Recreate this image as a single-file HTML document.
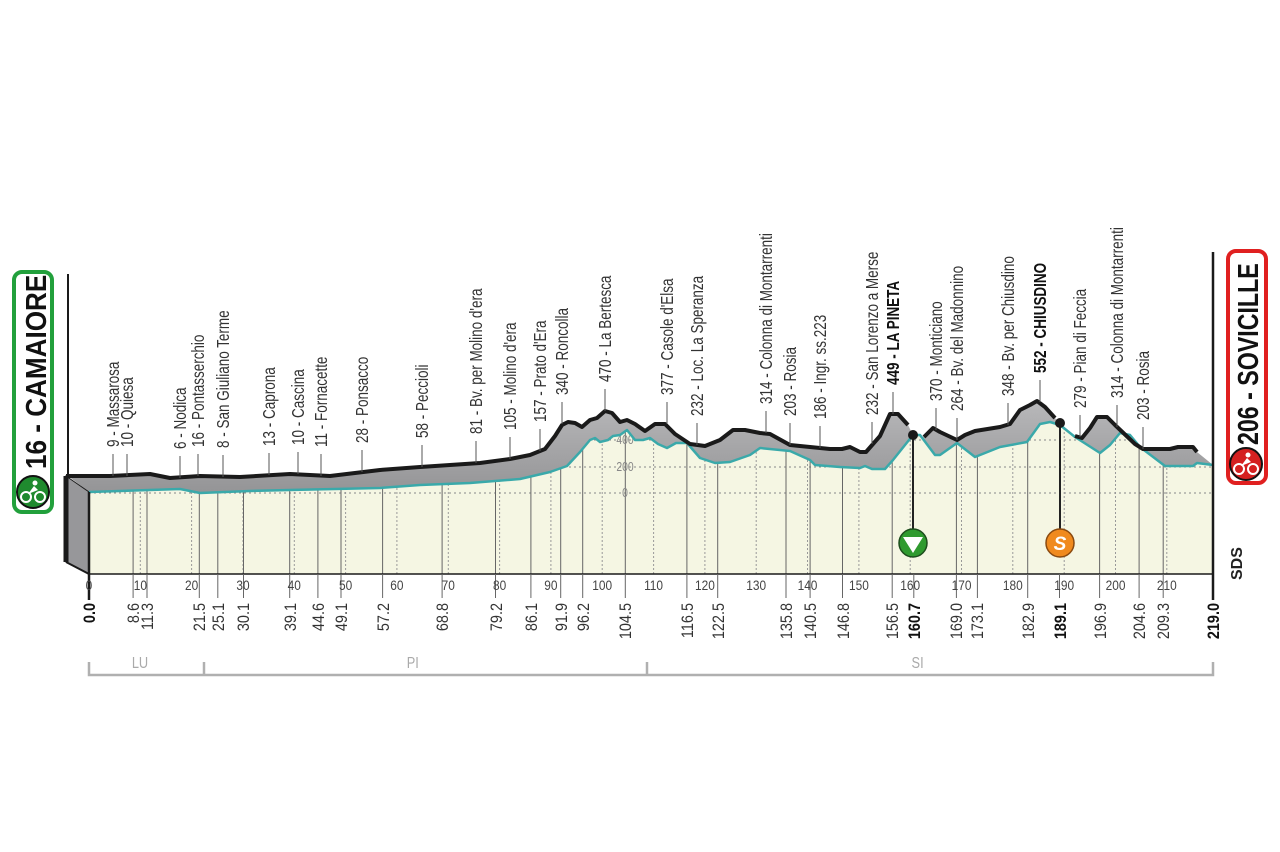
<!DOCTYPE html>
<html><head><meta charset="utf-8"><style>
html,body{margin:0;padding:0;background:#fff;}
svg{display:block;font-family:"Liberation Sans",sans-serif;}
</style></head><body>
<svg width="1280" height="852" viewBox="0 0 1280 852" xmlns="http://www.w3.org/2000/svg">
<defs>
<linearGradient id="gg" x1="0" y1="0" x2="0" y2="1"><stop offset="0" stop-color="#b8b8ba"/><stop offset="1" stop-color="#949496"/></linearGradient>
<clipPath id="cc"><polygon points="89,492 180,489 200,493 250,491 290,490 380,488 420,485 470,483 520,479 550,472 567,466 580,452 590,440 595,438 600,442 608,440 613,436 620,435 627,430 635,440 643,440 650,438 658,444 667,448 676,443 687,443 700,458 715,463 730,462 750,455 760,448 790,451 810,460 815,465 840,467 860,468 865,466 872,469 885,469 893,460 905,445 913,435 920,435 935,455 940,455 957,443 975,457 990,451 1000,447 1027,442 1040,424 1050,422 1060,425 1075,437 1100,453 1110,445 1120,433 1130,435 1140,447 1165,466 1193,466 1197,463 1213,465 1213,574 89,574"/></clipPath>
</defs>
<polygon fill="url(#gg)" points="68,476 110,476 150,474 170,478 200,476 240,477 290,474 330,476 380,470 420,467 480,463 510,459 530,455 545,449 555,436 562,425 568,422 575,423 582,427 590,420 597,418 605,411 612,413 620,422 627,420 635,424 645,431 655,424 665,424 675,434 690,444 705,446 720,440 733,430 745,430 760,433 770,434 790,445 830,449 842,449 850,447 860,452 866,452 880,436 890,414 898,414 908,425 913,435 922,438 933,428 940,432 957,440 965,435 975,431 1000,427 1010,424 1020,410 1030,405 1037,401 1045,407 1055,418 1060,423 1075,436 1082,438 1090,428 1097,417 1107,417 1115,425 1135,444 1143,449 1170,449 1178,447 1193,447 1197,452 1213,465 1197,463 1193,466 1165,466 1140,447 1130,435 1120,433 1110,445 1100,453 1075,437 1060,425 1050,422 1040,424 1027,442 1000,447 990,451 975,457 957,443 940,455 935,455 920,435 913,435 905,445 893,460 885,469 872,469 865,466 860,468 840,467 815,465 810,460 790,451 760,448 750,455 730,462 715,463 700,458 687,443 676,443 667,448 658,444 650,438 643,440 635,440 627,430 620,435 613,436 608,440 600,442 595,438 590,440 580,452 567,466 550,472 520,479 470,483 420,485 380,488 290,490 250,491 200,493 180,489 89,492"/>
<polygon fill="#97979a" stroke="#1a1a1a" stroke-width="1" points="66,476 89,492 89,574 66,562"/>
<line x1="66" y1="476" x2="66" y2="562" stroke="#1a1a1a" stroke-width="5"/>
<line x1="66" y1="562" x2="89" y2="574" stroke="#1a1a1a" stroke-width="2"/>
<polygon fill="#f5f6e3" points="89,492 180,489 200,493 250,491 290,490 380,488 420,485 470,483 520,479 550,472 567,466 580,452 590,440 595,438 600,442 608,440 613,436 620,435 627,430 635,440 643,440 650,438 658,444 667,448 676,443 687,443 700,458 715,463 730,462 750,455 760,448 790,451 810,460 815,465 840,467 860,468 865,466 872,469 885,469 893,460 905,445 913,435 920,435 935,455 940,455 957,443 975,457 990,451 1000,447 1027,442 1040,424 1050,422 1060,425 1075,437 1100,453 1110,445 1120,433 1130,435 1140,447 1165,466 1193,466 1197,463 1213,465 1213,574 89,574"/>
<g clip-path="url(#cc)">
<g stroke="#888" stroke-width="1" stroke-dasharray="2,3" fill="none">
<line x1="89" y1="467" x2="1213" y2="467"/><line x1="89" y1="493" x2="1213" y2="493"/><line x1="89" y1="440" x2="1213" y2="440"/>
</g>
<g stroke="#999" stroke-width="1" stroke-dasharray="2,2">
<line x1="140.3" y1="400" x2="140.3" y2="574"/><line x1="191.6" y1="400" x2="191.6" y2="574"/><line x1="243" y1="400" x2="243" y2="574"/><line x1="294.3" y1="400" x2="294.3" y2="574"/><line x1="345.6" y1="400" x2="345.6" y2="574"/><line x1="396.9" y1="400" x2="396.9" y2="574"/><line x1="448.3" y1="400" x2="448.3" y2="574"/><line x1="499.6" y1="400" x2="499.6" y2="574"/><line x1="550.9" y1="400" x2="550.9" y2="574"/><line x1="602.2" y1="400" x2="602.2" y2="574"/><line x1="653.6" y1="400" x2="653.6" y2="574"/><line x1="704.9" y1="400" x2="704.9" y2="574"/><line x1="756.2" y1="400" x2="756.2" y2="574"/><line x1="807.5" y1="400" x2="807.5" y2="574"/><line x1="858.9" y1="400" x2="858.9" y2="574"/><line x1="910.2" y1="400" x2="910.2" y2="574"/><line x1="961.5" y1="400" x2="961.5" y2="574"/><line x1="1012.8" y1="400" x2="1012.8" y2="574"/><line x1="1064.2" y1="400" x2="1064.2" y2="574"/><line x1="1115.5" y1="400" x2="1115.5" y2="574"/><line x1="1166.8" y1="400" x2="1166.8" y2="574"/>
</g>
<g stroke="#666" stroke-width="1">
<line x1="133.1" y1="400" x2="133.1" y2="574"/><line x1="147" y1="400" x2="147" y2="574"/><line x1="199.3" y1="400" x2="199.3" y2="574"/><line x1="217.8" y1="400" x2="217.8" y2="574"/><line x1="243.5" y1="400" x2="243.5" y2="574"/><line x1="289.7" y1="400" x2="289.7" y2="574"/><line x1="317.9" y1="400" x2="317.9" y2="574"/><line x1="341" y1="400" x2="341" y2="574"/><line x1="382.6" y1="400" x2="382.6" y2="574"/><line x1="442.1" y1="400" x2="442.1" y2="574"/><line x1="495.5" y1="400" x2="495.5" y2="574"/><line x1="530.9" y1="400" x2="530.9" y2="574"/><line x1="560.7" y1="400" x2="560.7" y2="574"/><line x1="582.7" y1="400" x2="582.7" y2="574"/><line x1="625.3" y1="400" x2="625.3" y2="574"/><line x1="686.9" y1="400" x2="686.9" y2="574"/><line x1="717.7" y1="400" x2="717.7" y2="574"/><line x1="786" y1="400" x2="786" y2="574"/><line x1="810.1" y1="400" x2="810.1" y2="574"/><line x1="842.5" y1="400" x2="842.5" y2="574"/><line x1="892.2" y1="400" x2="892.2" y2="574"/><line x1="956.4" y1="400" x2="956.4" y2="574"/><line x1="977.4" y1="400" x2="977.4" y2="574"/><line x1="1027.7" y1="400" x2="1027.7" y2="574"/><line x1="1099.6" y1="400" x2="1099.6" y2="574"/><line x1="1139.1" y1="400" x2="1139.1" y2="574"/><line x1="1163.2" y1="400" x2="1163.2" y2="574"/>
</g>
</g>
<g fill="#888" font-size="13" text-anchor="middle">
<text x="625" y="444" transform="translate(125,0) scale(0.8,1)">400</text><text x="625" y="471" transform="translate(125,0) scale(0.8,1)">200</text><text x="625" y="497" transform="translate(125,0) scale(0.8,1)">0</text>
</g>
<polyline fill="none" stroke="#3aa9aa" stroke-width="2.5" stroke-linejoin="round" points="89,492 180,489 200,493 250,491 290,490 380,488 420,485 470,483 520,479 550,472 567,466 580,452 590,440 595,438 600,442 608,440 613,436 620,435 627,430 635,440 643,440 650,438 658,444 667,448 676,443 687,443 700,458 715,463 730,462 750,455 760,448 790,451 810,460 815,465 840,467 860,468 865,466 872,469 885,469 893,460 905,445 913,435 920,435 935,455 940,455 957,443 975,457 990,451 1000,447 1027,442 1040,424 1050,422 1060,425 1075,437 1100,453 1110,445 1120,433 1130,435 1140,447 1165,466 1193,466 1197,463 1213,465"/>
<polyline fill="none" stroke="#1a1a1a" stroke-width="4" stroke-linejoin="round" points="66,476 110,476 150,474 170,478 200,476 240,477 290,474 330,476 380,470 420,467 480,463 510,459 530,455 545,449 555,436 562,425 568,422 575,423 582,427 590,420 597,418 605,411 612,413 620,422 627,420 635,424 645,431 655,424 665,424 675,434 690,444 705,446 720,440 733,430 745,430 760,433 770,434 790,445 830,449 842,449 850,447 860,452 866,452 880,436 890,414 898,414 908,425"/>
<polyline fill="none" stroke="#1a1a1a" stroke-width="4" stroke-linejoin="round" points="924,437 933,428 940,432 957,440 965,435 975,431 1000,427 1010,424 1020,410 1030,405 1037,401 1045,407 1055,418"/>
<polyline fill="none" stroke="#1a1a1a" stroke-width="4" stroke-linejoin="round" points="1075,436 1082,438 1090,428 1097,417 1107,417 1115,425 1135,444 1143,449 1170,449 1178,447 1193,447 1197,452"/>
<line x1="68" y1="274" x2="68" y2="478" stroke="#1a1a1a" stroke-width="2"/>
<line x1="1213" y1="252" x2="1213" y2="600" stroke="#1a1a1a" stroke-width="2.5"/>
<line x1="89" y1="492" x2="89" y2="600" stroke="#1a1a1a" stroke-width="2.5"/>
<line x1="89" y1="574" x2="1213" y2="574" stroke="#1a1a1a" stroke-width="1.5"/>
<g stroke="#666" stroke-width="1">
<line x1="133.1" y1="574" x2="133.1" y2="598"/><line x1="147" y1="574" x2="147" y2="598"/><line x1="199.3" y1="574" x2="199.3" y2="598"/><line x1="217.8" y1="574" x2="217.8" y2="598"/><line x1="243.5" y1="574" x2="243.5" y2="598"/><line x1="289.7" y1="574" x2="289.7" y2="598"/><line x1="317.9" y1="574" x2="317.9" y2="598"/><line x1="341" y1="574" x2="341" y2="598"/><line x1="382.6" y1="574" x2="382.6" y2="598"/><line x1="442.1" y1="574" x2="442.1" y2="598"/><line x1="495.5" y1="574" x2="495.5" y2="598"/><line x1="530.9" y1="574" x2="530.9" y2="598"/><line x1="560.7" y1="574" x2="560.7" y2="598"/><line x1="582.7" y1="574" x2="582.7" y2="598"/><line x1="625.3" y1="574" x2="625.3" y2="598"/><line x1="686.9" y1="574" x2="686.9" y2="598"/><line x1="717.7" y1="574" x2="717.7" y2="598"/><line x1="786" y1="574" x2="786" y2="598"/><line x1="810.1" y1="574" x2="810.1" y2="598"/><line x1="842.5" y1="574" x2="842.5" y2="598"/><line x1="892.2" y1="574" x2="892.2" y2="598"/><line x1="913.8" y1="574" x2="913.8" y2="598"/><line x1="956.4" y1="574" x2="956.4" y2="598"/><line x1="977.4" y1="574" x2="977.4" y2="598"/><line x1="1027.7" y1="574" x2="1027.7" y2="598"/><line x1="1059.5" y1="574" x2="1059.5" y2="598"/><line x1="1099.6" y1="574" x2="1099.6" y2="598"/><line x1="1139.1" y1="574" x2="1139.1" y2="598"/><line x1="1163.2" y1="574" x2="1163.2" y2="598"/>
</g>
<g fill="#444" font-size="14" text-anchor="middle">
<g transform="translate(0,590) scale(0.85,1)">
<text x="104.7">0</text><text x="165.1">10</text><text x="225.4">20</text><text x="285.9">30</text><text x="346.2">40</text><text x="406.6">50</text><text x="466.9">60</text><text x="527.4">70</text><text x="587.8">80</text><text x="648.1">90</text><text x="708.5">100</text><text x="768.9">110</text><text x="829.3">120</text><text x="889.6">130</text><text x="950">140</text><text x="1010.5">150</text><text x="1070.8">160</text><text x="1131.2">170</text><text x="1191.5">180</text><text x="1252">190</text><text x="1312.4">200</text><text x="1372.7">210</text>
</g>
</g>
<g fill="#333" font-size="17" text-anchor="end">
<text transform="translate(95,603) rotate(-90) scale(0.85,1)" font-weight="bold" fill="#111">0.0</text>
<text transform="translate(139,603) rotate(-90) scale(0.85,1)">8.6</text>
<text transform="translate(153,603) rotate(-90) scale(0.85,1)">11.3</text>
<text transform="translate(205,603) rotate(-90) scale(0.85,1)">21.5</text>
<text transform="translate(224,603) rotate(-90) scale(0.85,1)">25.1</text>
<text transform="translate(249,603) rotate(-90) scale(0.85,1)">30.1</text>
<text transform="translate(296,603) rotate(-90) scale(0.85,1)">39.1</text>
<text transform="translate(324,603) rotate(-90) scale(0.85,1)">44.6</text>
<text transform="translate(347,603) rotate(-90) scale(0.85,1)">49.1</text>
<text transform="translate(389,603) rotate(-90) scale(0.85,1)">57.2</text>
<text transform="translate(448,603) rotate(-90) scale(0.85,1)">68.8</text>
<text transform="translate(502,603) rotate(-90) scale(0.85,1)">79.2</text>
<text transform="translate(537,603) rotate(-90) scale(0.85,1)">86.1</text>
<text transform="translate(567,603) rotate(-90) scale(0.85,1)">91.9</text>
<text transform="translate(589,603) rotate(-90) scale(0.85,1)">96.2</text>
<text transform="translate(631,603) rotate(-90) scale(0.85,1)">104.5</text>
<text transform="translate(693,603) rotate(-90) scale(0.85,1)">116.5</text>
<text transform="translate(724,603) rotate(-90) scale(0.85,1)">122.5</text>
<text transform="translate(792,603) rotate(-90) scale(0.85,1)">135.8</text>
<text transform="translate(816,603) rotate(-90) scale(0.85,1)">140.5</text>
<text transform="translate(849,603) rotate(-90) scale(0.85,1)">146.8</text>
<text transform="translate(898,603) rotate(-90) scale(0.85,1)">156.5</text>
<text transform="translate(920,603) rotate(-90) scale(0.85,1)" font-weight="bold" fill="#111">160.7</text>
<text transform="translate(962,603) rotate(-90) scale(0.85,1)">169.0</text>
<text transform="translate(983,603) rotate(-90) scale(0.85,1)">173.1</text>
<text transform="translate(1034,603) rotate(-90) scale(0.85,1)">182.9</text>
<text transform="translate(1066,603) rotate(-90) scale(0.85,1)" font-weight="bold" fill="#111">189.1</text>
<text transform="translate(1106,603) rotate(-90) scale(0.85,1)">196.9</text>
<text transform="translate(1145,603) rotate(-90) scale(0.85,1)">204.6</text>
<text transform="translate(1169,603) rotate(-90) scale(0.85,1)">209.3</text>
<text transform="translate(1219,603) rotate(-90) scale(0.85,1)" font-weight="bold" fill="#111">219.0</text>
</g>
<g stroke="#555" stroke-width="1">
<line x1="113" y1="454" x2="113" y2="476"/><line x1="127" y1="454" x2="127" y2="476"/><line x1="180" y1="456" x2="180" y2="478"/><line x1="198" y1="454" x2="198" y2="476"/><line x1="223" y1="455" x2="223" y2="477"/><line x1="269" y1="453" x2="269" y2="475"/><line x1="298" y1="452" x2="298" y2="474"/><line x1="321" y1="454" x2="321" y2="476"/><line x1="362" y1="450" x2="362" y2="472"/><line x1="422" y1="445" x2="422" y2="467"/><line x1="476" y1="441" x2="476" y2="463"/><line x1="510" y1="437" x2="510" y2="459"/><line x1="540" y1="429" x2="540" y2="451"/><line x1="562" y1="402" x2="562" y2="424"/><line x1="605" y1="389" x2="605" y2="411"/><line x1="667" y1="402" x2="667" y2="424"/><line x1="697" y1="423" x2="697" y2="445"/><line x1="766" y1="411" x2="766" y2="433"/><line x1="790" y1="423" x2="790" y2="445"/><line x1="820" y1="426" x2="820" y2="448"/><line x1="872" y1="422" x2="872" y2="444"/><line x1="893" y1="392" x2="893" y2="414"/><line x1="936" y1="408" x2="936" y2="430"/><line x1="957" y1="418" x2="957" y2="440"/><line x1="1008" y1="403" x2="1008" y2="425"/><line x1="1040" y1="380" x2="1040" y2="402"/><line x1="1080" y1="415" x2="1080" y2="437"/><line x1="1117" y1="405" x2="1117" y2="427"/><line x1="1143" y1="427" x2="1143" y2="449"/>
</g>
<g fill="#333" font-size="18">
<text transform="translate(119,447) rotate(-90) scale(0.75,1)">9 - Massarosa</text>
<text transform="translate(133,447) rotate(-90) scale(0.75,1)">10 - Quiesa</text>
<text transform="translate(186,449) rotate(-90) scale(0.75,1)">6 - Nodica</text>
<text transform="translate(204,447) rotate(-90) scale(0.75,1)">16 - Pontasserchio</text>
<text transform="translate(229,448) rotate(-90) scale(0.75,1)">8 - San Giuliano Terme</text>
<text transform="translate(275,446) rotate(-90) scale(0.75,1)">13 - Caprona</text>
<text transform="translate(304,445) rotate(-90) scale(0.75,1)">10 - Cascina</text>
<text transform="translate(327,447) rotate(-90) scale(0.75,1)">11 - Fornacette</text>
<text transform="translate(368,443) rotate(-90) scale(0.75,1)">28 - Ponsacco</text>
<text transform="translate(428,438) rotate(-90) scale(0.75,1)">58 - Peccioli</text>
<text transform="translate(482,434) rotate(-90) scale(0.75,1)">81 - Bv. per Molino d'era</text>
<text transform="translate(516,430) rotate(-90) scale(0.75,1)">105 - Molino d'era</text>
<text transform="translate(546,422) rotate(-90) scale(0.75,1)">157 - Prato d'Era</text>
<text transform="translate(568,395) rotate(-90) scale(0.75,1)">340 - Roncolla</text>
<text transform="translate(611,382) rotate(-90) scale(0.75,1)">470 - La Bertesca</text>
<text transform="translate(673,395) rotate(-90) scale(0.75,1)">377 - Casole d'Elsa</text>
<text transform="translate(703,416) rotate(-90) scale(0.75,1)">232 - Loc. La Speranza</text>
<text transform="translate(772,404) rotate(-90) scale(0.75,1)">314 - Colonna di Montarrenti</text>
<text transform="translate(796,416) rotate(-90) scale(0.75,1)">203 - Rosia</text>
<text transform="translate(826,419) rotate(-90) scale(0.75,1)">186 - Ingr. ss.223</text>
<text transform="translate(878,415) rotate(-90) scale(0.75,1)">232 - San Lorenzo a Merse</text>
<text transform="translate(899,385) rotate(-90) scale(0.75,1)" font-weight="bold" fill="#111">449 - LA PINETA</text>
<text transform="translate(942,401) rotate(-90) scale(0.75,1)">370 - Monticiano</text>
<text transform="translate(963,411) rotate(-90) scale(0.75,1)">264 - Bv. del Madonnino</text>
<text transform="translate(1014,396) rotate(-90) scale(0.75,1)">348 - Bv. per Chiusdino</text>
<text transform="translate(1046,373) rotate(-90) scale(0.75,1)" font-weight="bold" fill="#111">552 - CHIUSDINO</text>
<text transform="translate(1086,408) rotate(-90) scale(0.75,1)">279 - Pian di Feccia</text>
<text transform="translate(1123,398) rotate(-90) scale(0.75,1)">314 - Colonna di Montarrenti</text>
<text transform="translate(1149,420) rotate(-90) scale(0.75,1)">203 - Rosia</text>
</g>
<line x1="913" y1="435" x2="913" y2="530" stroke="#222" stroke-width="2"/>
<circle cx="913" cy="435" r="5" fill="#1a1a1a"/>
<circle cx="913" cy="543" r="14" fill="#2f9a2f" stroke="#1d4d1d" stroke-width="1.5"/>
<polygon points="903,537 923,537 913,553" fill="#fff"/>
<line x1="1060" y1="423" x2="1060" y2="530" stroke="#222" stroke-width="2"/>
<circle cx="1060" cy="423" r="5" fill="#1a1a1a"/>
<circle cx="1060" cy="543" r="14" fill="#f08a1e" stroke="#8a4a10" stroke-width="1.5"/>
<text x="1060" y="550" fill="#fff" font-size="19" font-weight="bold" font-style="italic" text-anchor="middle">S</text>
<g stroke="#b0b0b0" stroke-width="2.5" fill="none">
<polyline points="89,662 89,675 1213,675 1213,662"/>
<line x1="204" y1="662" x2="204" y2="675"/><line x1="647" y1="662" x2="647" y2="675"/>
</g>
<g fill="#aaa" font-size="16" text-anchor="middle">
<text x="175" y="668" transform="scale(0.8,1)">LU</text>
<text x="516" y="668" transform="scale(0.8,1)">PI</text>
<text x="1147" y="668" transform="scale(0.8,1)">SI</text>
</g>
<rect x="14" y="272" width="38" height="240" rx="8" fill="#fff" stroke="#22a03c" stroke-width="4"/>
<text transform="translate(46,469) rotate(-90) scale(0.9,1)" font-size="29" font-weight="bold" fill="#111">16 - CAMAIORE</text>
<circle cx="33" cy="492" r="16" fill="#1f8a2e" stroke="#111" stroke-width="2"/>
<circle cx="26" cy="497" r="5" fill="none" stroke="#fff" stroke-width="2"/><circle cx="40" cy="497" r="5" fill="none" stroke="#fff" stroke-width="2"/>
<path d="M28,494 L34,486 L38,490 Z" fill="#fff"/><circle cx="35" cy="483" r="2.5" fill="#fff"/>
<rect x="1228" y="251" width="38" height="232" rx="8" fill="#fff" stroke="#e02020" stroke-width="4"/>
<text transform="translate(1258,445) rotate(-90) scale(0.8,1)" font-size="29" font-weight="bold" fill="#111">206 - SOVICILLE</text>
<circle cx="1246" cy="464" r="16" fill="#d42020" stroke="#111" stroke-width="2"/>
<circle cx="1239" cy="469" r="5" fill="none" stroke="#fff" stroke-width="2"/><circle cx="1253" cy="469" r="5" fill="none" stroke="#fff" stroke-width="2"/>
<path d="M1241,466 L1247,458 L1251,462 Z" fill="#fff"/><circle cx="1248" cy="455" r="2.5" fill="#fff"/>
<text transform="translate(1242,580) rotate(-90)" font-size="16" font-weight="bold" fill="#222">SDS</text>
</svg>
</body></html>
